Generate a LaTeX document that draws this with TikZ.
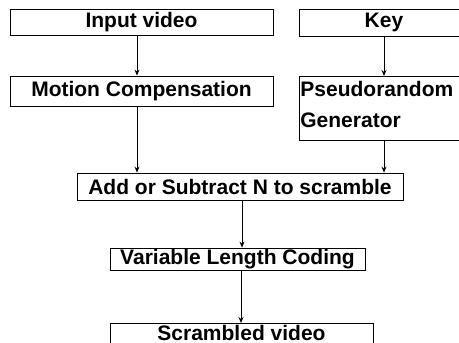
\documentclass[tikz,border=0pt]{standalone}
\usepackage{fontspec}
\setmainfont{Liberation Sans}
\usetikzlibrary{arrows.meta}
\tikzset{
  blk/.style={draw, line width=0.8pt, inner sep=0pt,
    font=\bfseries\fontsize{21}{31}\selectfont},
}

\begin{document}
\begin{tikzpicture}[x=1pt,y=-1pt,
% arrow heads for all connectors
-{Stealth[length=6pt,width=5pt]},line width=0.8pt]

\useasboundingbox (0,0) rectangle (459,343);

% top row
\node[blk,minimum width=263pt,minimum height=26pt] (input) at (141.5,22) {Input video};
\node[blk,minimum width=170pt,minimum height=27pt] (key) at (384,22.5) {Key};

% second row
\node[blk,minimum width=263pt,minimum height=30pt] (motion) at (141.5,91) {Motion Compensation};
\node[blk,anchor=north west,minimum height=64pt,text width=168pt,inner sep=1pt,align=left]
  (prng) at (299,76) {Pseudorandom\\Generator\rule[-8pt]{0pt}{8pt}};

% lower blocks
\node[blk,minimum width=326pt,minimum height=27pt] (add) at (240,186.5) {Add or Subtract N to scramble};
\node[blk,minimum width=255pt,minimum height=22pt] (vlc) at (237.5,259) {Variable Length Coding};
\node[blk,anchor=north,minimum width=263pt,inner ysep=1.5pt,text depth=8pt] (scr) at (241.5,323) {Scrambled video};

\draw ([xshift=-4.5pt]input.south) -- ([xshift=-4.5pt]motion.north);
\draw (key.south) -- (prng.north -| key.south);
\draw ([xshift=-4.5pt]motion.south) -- ([xshift=-4.5pt]motion.south |- add.north);
\draw (prng.south -| key.south) -- (key.south |- add.north);
\draw ([xshift=2pt]add.south) -- ([xshift=2pt]add.south |- vlc.north);
\draw ([xshift=3.5pt]vlc.south) -- ([xshift=3.5pt]scr.north -| vlc.south);
\end{tikzpicture}
\end{document}
